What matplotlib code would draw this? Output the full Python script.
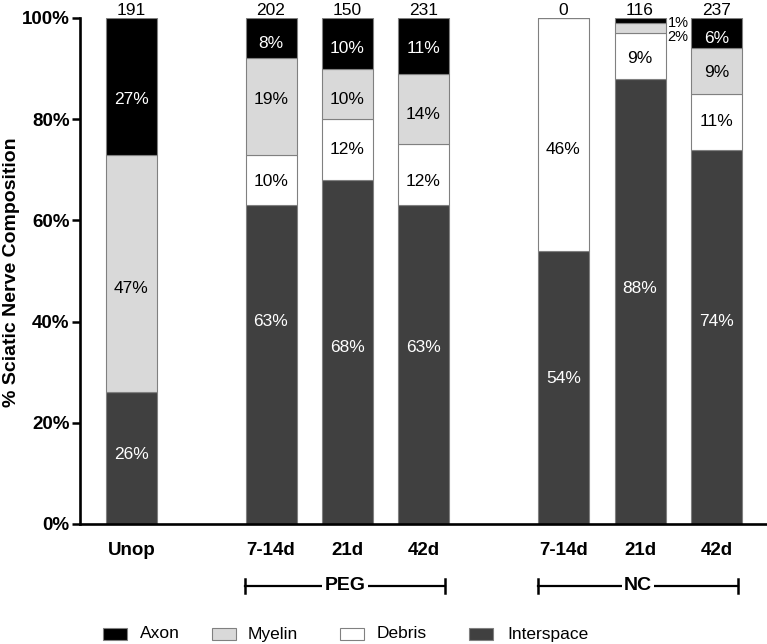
import numpy as np
import matplotlib.pyplot as plt
from matplotlib.patches import Rectangle

plt.rcParams['font.family'] = ['Liberation Sans', 'DejaVu Sans']

groups = ['Unop', '7-14d', '21d', '42d', '7-14d', '21d', '42d']
counts = [191, 202, 150, 231, 0, 116, 237]

# stacked bottom -> top
interspace = [26, 63, 68, 63, 54, 88, 74]
debris = [0, 10, 12, 12, 46, 9, 11]
myelin = [47, 19, 10, 14, 0, 2, 9]
axon = [27, 8, 10, 11, 0, 1, 6]

# where the percentage labels sit (y, in % units), None = no label inside
interspace_lab = [14.1, 40.3, 35.2, 35.2, 29.1, 46.8, 40.3]
debris_lab = [None, 68.0, 74.4, 68.0, 74.4, 92.2, 79.8]
myelin_lab = [46.9, 84.1, 84.1, 81.3, None, None, 89.6]
axon_lab = [84.1, 95.3, 94.3, 94.3, None, None, 96.3]

layers = [('Interspace', interspace, interspace_lab, '#404040', 'white'),
          ('Debris', debris, debris_lab, 'white', 'black'),
          ('Myelin', myelin, myelin_lab, '#d9d9d9', 'black'),
          ('Axon', axon, axon_lab, 'black', 'white')]

# layout (x in pixel-like units)
xpos = [131.5, 271, 347.5, 423.5, 563.5, 640, 716.5]
bar_w = 51

W, H = 767, 644
fig = plt.figure(figsize=(W / 100, H / 100), dpi=100)
ax = fig.add_axes([80 / W, (H - 524) / H, (767 - 80) / W, (524 - 18) / H])

bottom = np.zeros(len(groups))
for name, vals, labs, col, tcol in layers:
    vals = np.array(vals, dtype=float)
    ax.bar(xpos, vals, bar_w, bottom=bottom, color=col,
           edgecolor='#808080', linewidth=0.8, zorder=2)
    for i, v in enumerate(vals):
        if labs[i] is not None:
            ax.text(xpos[i], labs[i], f'{int(v)}%', ha='center',
                    va='center_baseline', color=tcol, fontsize=12.5, zorder=3)
    bottom += vals

# tiny segments labelled beside the bar (NC 21d)
i = 5
ax.text(xpos[i] + bar_w / 2 + 2, 99.4, f'{axon[i]}%', ha='left',
        va='center_baseline', fontsize=10.5, clip_on=False)
ax.text(xpos[i] + bar_w / 2 + 2, 96.6, f'{myelin[i]}%', ha='left',
        va='center_baseline', fontsize=10.5, clip_on=False)

for x, n in zip(xpos, counts):
    ax.annotate(str(n), (x, 100), xytext=(0, 2.3), textcoords='offset points',
                ha='center', va='baseline', fontsize=12.5, annotation_clip=False)

ax.set_xlim(80, 767)
ax.set_ylim(0, 100)
ax.set_yticks(range(0, 101, 20))
ax.set_yticklabels([f'{v}%' for v in range(0, 101, 20)], fontweight='bold', fontsize=13.5)
ax.set_xticks(xpos)
ax.set_xticklabels(groups, fontweight='bold', fontsize=13.5)
ax.tick_params(axis='x', length=0, pad=13)
ax.tick_params(axis='y', length=6, width=1.8, pad=1.5)
for s in ['top', 'right']:
    ax.spines[s].set_visible(False)
for s in ['left', 'bottom']:
    ax.spines[s].set_linewidth(1.9)

fig.text(12 / W, 1 - 272 / H, '% Sciatic Nerve Composition', rotation=90,
         ha='center', va='center', fontweight='bold', fontsize=14)

# group brackets
trans = ax.get_xaxis_transform()
ybr = (524 - 586) / 506
cap = 7 / 506
for label, x0, x1 in [('PEG', 245, 445), ('NC', 538, 738)]:
    ax.plot([x0, x1], [ybr, ybr], color='black', lw=1.6, transform=trans, clip_on=False)
    for xe in (x0, x1):
        ax.plot([xe, xe], [ybr - cap, ybr + cap], color='black', lw=1.8,
                transform=trans, clip_on=False)
    ax.text((x0 + x1) / 2, ybr, label, transform=trans, ha='center', va='center',
            fontweight='bold', fontsize=14,
            bbox=dict(facecolor='white', edgecolor='none', pad=1.5))

# legend
leg = [('Axon', 'black', 103, 140), ('Myelin', '#d9d9d9', 212, 248),
       ('Debris', 'white', 340, 377), ('Interspace', '#404040', 469, 507)]
for name, col, bx, tx in leg:
    fig.add_artist(Rectangle((bx / W, 1 - 640 / H), 24 / W, 12 / H,
                             facecolor=col, edgecolor='#808080', lw=0.8,
                             transform=fig.transFigure))
    fig.text(tx / W, 1 - 634 / H, name, ha='left', va='center', fontsize=12.5)

fig.savefig('out.png', dpi=100)
